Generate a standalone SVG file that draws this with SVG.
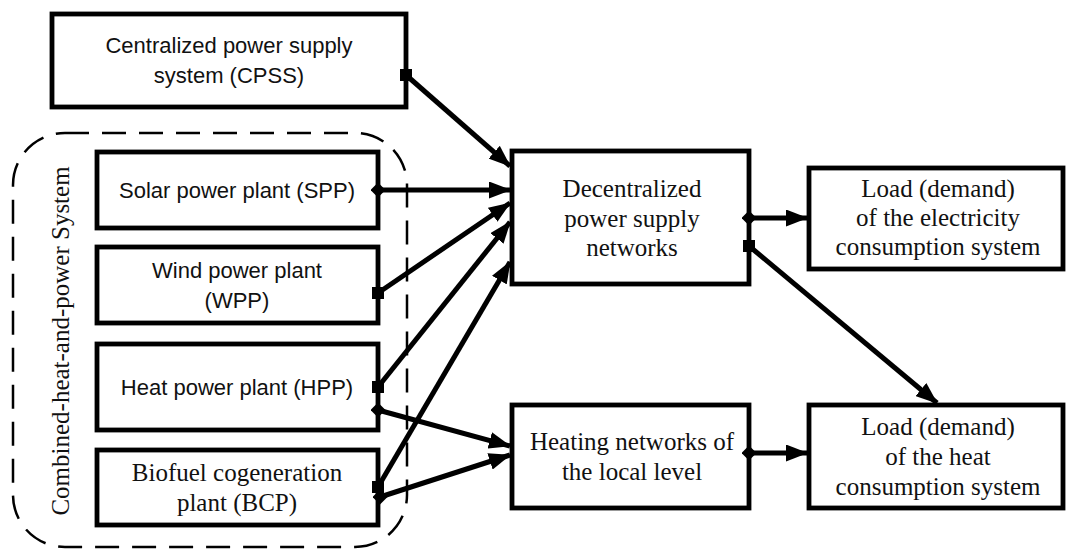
<svg xmlns="http://www.w3.org/2000/svg" width="1067" height="549" viewBox="0 0 1067 549">
<defs>
<style>
.box{fill:#fff;stroke:#000;stroke-width:4.8}
.sans{font-family:"Liberation Sans",Arial,sans-serif;font-size:22px;fill:#111;text-anchor:middle}
.serif{font-family:"Liberation Serif","Times New Roman",serif;font-size:25px;fill:#111;text-anchor:middle}
.con{stroke:#000;stroke-width:5;fill:none}
.dash{fill:none;stroke:#000;stroke-width:2.5;stroke-dasharray:24 13}
</style>
<marker id="arrow" viewBox="0 0 22 17" refX="21" refY="8.5" markerWidth="22" markerHeight="17" markerUnits="userSpaceOnUse" orient="auto">
<path d="M0,0 L22,8.5 L0,17 z" fill="#000"/>
</marker>
<marker id="dia" viewBox="0 0 15 15" refX="7.5" refY="7.5" markerWidth="15" markerHeight="15" markerUnits="userSpaceOnUse" orient="0">
<path d="M0,7.5 L7.5,0 L15,7.5 L7.5,15 z" fill="#000"/>
</marker>
<marker id="sq" viewBox="0 0 12 12" refX="6" refY="6" markerWidth="12" markerHeight="12" markerUnits="userSpaceOnUse" orient="0">
<rect x="0" y="0" width="12" height="12" fill="#000"/>
</marker>
</defs>
<rect width="1067" height="549" fill="#fff"/>

<g id="chp-group">
<rect class="dash" x="13" y="133" width="394" height="414" rx="52" ry="52"/>
<text class="serif" transform="translate(69,341) rotate(-90)">Combined-heat-and-power System</text>
</g>

<g id="cpss">
<rect class="box" x="52" y="14" width="354" height="93"/>
<text class="sans" x="229" y="53">Centralized power supply</text>
<text class="sans" x="229" y="83">system (CPSS)</text>
</g>

<g id="spp">
<rect class="box" x="97" y="152" width="281" height="76"/>
<text class="sans" x="237" y="198">Solar power plant (SPP)</text>
</g>

<g id="wpp">
<rect class="box" x="97" y="247" width="281" height="76"/>
<text class="sans" x="237" y="278">Wind power plant</text>
<text class="sans" x="237" y="308">(WPP)</text>
</g>

<g id="hpp">
<rect class="box" x="97" y="344" width="281" height="86"/>
<text class="sans" x="237" y="395">Heat power plant (HPP)</text>
</g>

<g id="bcp">
<rect class="box" x="97" y="450" width="281" height="75"/>
<text class="serif" x="237" y="481">Biofuel cogeneration</text>
<text class="serif" x="237" y="511">plant (BCP)</text>
</g>

<g id="dpsn">
<rect class="box" x="512" y="151" width="237" height="133"/>
<text class="serif" x="632" y="197">Decentralized</text>
<text class="serif" x="632" y="227">power supply</text>
<text class="serif" x="632" y="256">networks</text>
</g>

<g id="heating">
<rect class="box" x="512" y="405" width="237" height="103"/>
<text class="serif" x="632" y="450">Heating networks of</text>
<text class="serif" x="632" y="480">the local level</text>
</g>

<g id="load-elec">
<rect class="box" x="809" y="168" width="254" height="101"/>
<text class="serif" x="938" y="197">Load (demand)</text>
<text class="serif" x="938" y="226">of the electricity</text>
<text class="serif" x="938" y="255">consumption system</text>
</g>

<g id="load-heat">
<rect class="box" x="809" y="405" width="254" height="103"/>
<text class="serif" x="938" y="435">Load (demand)</text>
<text class="serif" x="938" y="465">of the heat</text>
<text class="serif" x="938" y="495">consumption system</text>
</g>

<g id="connectors">
<line class="con" x1="406" y1="75" x2="510" y2="166" marker-start="url(#sq)" marker-end="url(#arrow)"/>
<line class="con" x1="378" y1="190" x2="510" y2="190" marker-start="url(#dia)" marker-end="url(#arrow)"/>
<line class="con" x1="378" y1="293" x2="510" y2="203" marker-start="url(#sq)" marker-end="url(#arrow)"/>
<line class="con" x1="378" y1="387" x2="510" y2="222" marker-start="url(#sq)" marker-end="url(#arrow)"/>
<line class="con" x1="378" y1="410" x2="510" y2="446" marker-start="url(#dia)" marker-end="url(#arrow)"/>
<line class="con" x1="378" y1="487" x2="510" y2="262" marker-start="url(#sq)" marker-end="url(#arrow)"/>
<line class="con" x1="380" y1="497" x2="510" y2="455" marker-start="url(#dia)" marker-end="url(#arrow)"/>
<line class="con" x1="749" y1="218" x2="807" y2="218" marker-start="url(#dia)" marker-end="url(#arrow)"/>
<line class="con" x1="749" y1="246" x2="937" y2="403" marker-start="url(#sq)" marker-end="url(#arrow)"/>
<line class="con" x1="749" y1="453" x2="807" y2="453" marker-start="url(#dia)" marker-end="url(#arrow)"/>
</g>
</svg>
